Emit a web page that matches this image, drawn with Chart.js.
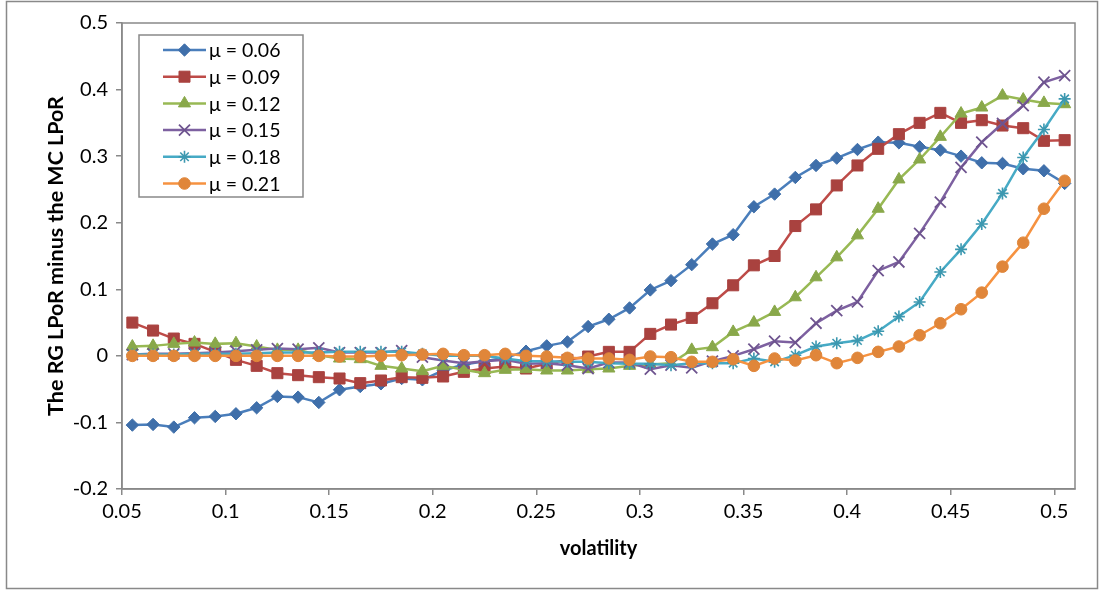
<!DOCTYPE html>
<html>
<head>
<meta charset="utf-8">
<script src="https://cdn.jsdelivr.net/npm/chart.js@4/dist/chart.umd.min.js"></script>
<style>
  html, body { margin: 0; padding: 0; background: #fff; }
  #wrap { position: relative; width: 1104px; height: 593px; }
</style>
</head>
<body>
<div id="wrap"><canvas id="grafico" width="1104" height="593"></canvas></div>
<script>
const volatilidade = [0.055, 0.065, 0.075, 0.085, 0.095, 0.105, 0.115, 0.125, 0.135, 0.145,
    0.155, 0.165, 0.175, 0.185, 0.195, 0.205, 0.215, 0.225, 0.235, 0.245,
    0.255, 0.265, 0.275, 0.285, 0.295, 0.305, 0.315, 0.325, 0.335, 0.345,
    0.355, 0.365, 0.375, 0.385, 0.395, 0.405, 0.415, 0.425, 0.435, 0.445,
    0.455, 0.465, 0.475, 0.485, 0.495, 0.505];

const mu006 = [-0.104, -0.103, -0.107, -0.093, -0.091, -0.087, -0.078, -0.061, -0.062, -0.070,
    -0.051, -0.046, -0.042, -0.034, -0.036, -0.022, -0.013, -0.008, -0.003, 0.007,
    0.015, 0.021, 0.044, 0.055, 0.072, 0.099, 0.113, 0.137, 0.168, 0.182,
    0.224, 0.243, 0.268, 0.286, 0.297, 0.310, 0.321, 0.320, 0.314, 0.309,
    0.300, 0.290, 0.289, 0.281, 0.278, 0.259];

const mu009 = [0.050, 0.038, 0.026, 0.018, 0.006, -0.006, -0.015, -0.026, -0.029, -0.032,
    -0.034, -0.041, -0.037, -0.032, -0.033, -0.031, -0.024, -0.019, -0.016, -0.019,
    -0.012, -0.006, -0.001, 0.006, 0.006, 0.033, 0.047, 0.057, 0.079, 0.106,
    0.136, 0.150, 0.195, 0.220, 0.256, 0.286, 0.311, 0.333, 0.350, 0.365,
    0.350, 0.354, 0.346, 0.342, 0.323, 0.324];

const mu012 = [0.014, 0.015, 0.018, 0.020, 0.018, 0.019, 0.014, 0.009, 0.009, 0.001,
    -0.004, -0.005, -0.015, -0.019, -0.023, -0.015, -0.021, -0.026, -0.021, -0.020,
    -0.022, -0.022, -0.020, -0.019, -0.015, -0.013, -0.011, 0.009, 0.013, 0.036,
    0.050, 0.066, 0.088, 0.118, 0.148, 0.181, 0.221, 0.265, 0.295, 0.329,
    0.364, 0.373, 0.391, 0.385, 0.380, 0.378];

const mu015 = [0.002, 0.003, 0.003, 0.004, 0.005, 0.007, 0.009, 0.011, 0.010, 0.012,
    0.005, 0.005, 0.005, 0.008, -0.002, -0.007, -0.011, -0.008, -0.006, -0.012,
    -0.011, -0.014, -0.019, -0.010, -0.010, -0.020, -0.014, -0.018, -0.008, 0.000,
    0.010, 0.022, 0.020, 0.049, 0.068, 0.081, 0.128, 0.141, 0.184, 0.231,
    0.283, 0.321, 0.349, 0.376, 0.411, 0.421];

const mu018 = [0.002, 0.002, 0.002, 0.003, 0.003, 0.003, 0.004, 0.005, 0.005, 0.005,
    0.006, 0.006, 0.006, 0.006, 0.003, 0.000, 0.000, 0.000, -0.004, -0.008,
    -0.008, -0.009, -0.009, -0.011, -0.012, -0.012, -0.014, -0.011, -0.011, -0.011,
    -0.004, -0.009, 0.001, 0.014, 0.019, 0.023, 0.037, 0.059, 0.081, 0.126,
    0.160, 0.198, 0.244, 0.298, 0.340, 0.386];

const mu021 = [0.000, 0.000, 0.000, 0.000, 0.000, 0.000, 0.000, 0.000, 0.000, 0.000,
    -0.001, -0.001, 0.000, 0.001, 0.002, 0.003, 0.001, 0.001, 0.003, 0.000,
    -0.001, -0.003, -0.004, -0.004, -0.006, -0.001, -0.002, -0.009, -0.009, -0.005,
    -0.015, -0.004, -0.007, 0.001, -0.011, -0.003, 0.006, 0.014, 0.031, 0.049,
    0.070, 0.095, 0.134, 0.170, 0.221, 0.263];

const nomesSeries = ["μ = 0.06", "μ = 0.09", "μ = 0.12", "μ = 0.15", "μ = 0.18", "μ = 0.21"];
const valoresSeries = [mu006, mu009, mu012, mu015, mu018, mu021];

// estilo de cada série (linha, marcador)
const estilos = [
    { linha: "#4A7EBB", marcador: "#3F6FAA", forma: "rectRot", raio: 6.2, borda: 1 },
    { linha: "#BE4B48", marcador: "#A9423F", forma: "rect", raio: 7.8, borda: 1 },
    { linha: "#98B954", marcador: "#89A84A", forma: "triangle", raio: 7, borda: 1 },
    { linha: "#7D60A0", marcador: "#6E548F", forma: "crossRot", raio: 7.8, borda: 1.8 },
    { linha: "#46AAC5", marcador: "#3C98B0", forma: "star", raio: 6, borda: 1.6 },
    { linha: "#F69240", marcador: "#E0863A", forma: "circle", raio: 5.8, borda: 1 }
];

const COR_EIXO = "#898989";
const FONTE = "Lato, 'Open Sans', sans-serif";

function formatarTick(valor) {
    return parseFloat(Number(valor).toFixed(2)).toString();
}

let datasets = valoresSeries.map((serie, i) => ({
    label: nomesSeries[i],
    data: serie.map((v, j) => ({ x: volatilidade[j], y: v })),
    borderColor: estilos[i].linha,
    borderWidth: 2.5,
    backgroundColor: estilos[i].marcador,
    pointBackgroundColor: estilos[i].marcador,
    pointBorderColor: estilos[i].marcador,
    pointBorderWidth: estilos[i].borda,
    pointStyle: estilos[i].forma,
    pointRadius: estilos[i].raio,
    pointHoverRadius: estilos[i].raio,
    showLine: true,
    tension: 0,
    order: valoresSeries.length - i
}));

// fundo branco, moldura externa e borda da área do gráfico
const molduras = {
    id: "molduras",
    beforeDraw(chart) {
        let ctx = chart.ctx;
        ctx.save();
        ctx.fillStyle = "#fff";
        ctx.fillRect(0, 0, chart.width, chart.height);
        ctx.strokeStyle = COR_EIXO;
        ctx.lineWidth = 1.5;
        ctx.strokeRect(6.5, 1.5, 1091, 587);
        ctx.restore();
    },
    beforeDatasetsDraw(chart) {
        let a = chart.chartArea;
        let ctx = chart.ctx;
        ctx.save();
        ctx.strokeStyle = COR_EIXO;
        ctx.lineWidth = 1.5;
        ctx.strokeRect(a.left, a.top, a.right - a.left, a.bottom - a.top);
        ctx.restore();
    }
};

// legenda no estilo do Excel: linha com marcador no meio
const legendaExcel = {
    id: "legendaExcel",
    afterDraw(chart) {
        let ctx = chart.ctx;
        ctx.save();
        ctx.fillStyle = "#fff";
        ctx.fillRect(139, 35, 164, 162);
        ctx.strokeStyle = COR_EIXO;
        ctx.lineWidth = 1.5;
        ctx.strokeRect(139, 35, 164, 162);
        chart.data.datasets.forEach((ds, i) => {
            let y = 50 + i * 26.7;
            ctx.strokeStyle = ds.borderColor;
            ctx.lineWidth = ds.borderWidth;
            ctx.beginPath();
            ctx.moveTo(163, y);
            ctx.lineTo(206, y);
            ctx.stroke();
            ctx.fillStyle = ds.pointBackgroundColor;
            ctx.strokeStyle = ds.pointBorderColor;
            ctx.lineWidth = ds.pointBorderWidth;
            Chart.helpers.drawPoint(ctx, {
                pointStyle: ds.pointStyle,
                radius: ds.pointRadius,
                borderWidth: ds.pointBorderWidth,
                rotation: 0
            }, 184.5, y);
            ctx.fillStyle = "#000";
            ctx.font = "19.5px " + FONTE;
            ctx.textBaseline = "middle";
            ctx.textAlign = "left";
            ctx.fillText(ds.label, 209, y + 1);
        });
        ctx.restore();
    }
};

Chart.defaults.font.family = FONTE;
Chart.defaults.color = "#000";

new Chart(document.getElementById("grafico"), {
    type: "scatter",
    data: { datasets: datasets },
    plugins: [molduras, legendaExcel],
    options: {
        responsive: false,
        devicePixelRatio: 1,
        animation: false,
        layout: { padding: { left: 0, top: 23, right: 29, bottom: 4 } },
        plugins: {
            legend: { display: false },
            tooltip: { enabled: false }
        },
        scales: {
            x: {
                type: "linear",
                min: 0.05,
                max: 0.51,
                afterFit: escala => { escala.height = 100; },
                ticks: {
                    stepSize: 0.05,
                    includeBounds: false,
                    autoSkip: false,
                    maxRotation: 0,
                    padding: 5,
                    font: { size: 20 },
                    callback: formatarTick
                },
                grid: { drawOnChartArea: false, drawTicks: true, tickLength: 6, color: COR_EIXO, lineWidth: 1.5 },
                border: { display: true, color: COR_EIXO, width: 1.5 },
                title: {
                    display: true,
                    text: "volatility",
                    font: { size: 20, weight: "bold" },
                    padding: { top: 0, bottom: 28 }
                }
            },
            y: {
                min: -0.2,
                max: 0.5,
                afterFit: escala => { escala.width = 122; },
                ticks: {
                    stepSize: 0.1,
                    padding: 8,
                    font: { size: 20 },
                    callback: formatarTick
                },
                grid: { drawOnChartArea: false, drawTicks: true, tickLength: 6, color: COR_EIXO, lineWidth: 1.5 },
                border: { display: true, color: COR_EIXO, width: 1.5 },
                title: {
                    display: true,
                    text: "The RG LPoR minus the MC LPoR",
                    font: { size: 21.5, weight: "bold" },
                    padding: { top: 43, bottom: 0 }
                }
            }
        }
    }
});
</script>
</body>
</html>
